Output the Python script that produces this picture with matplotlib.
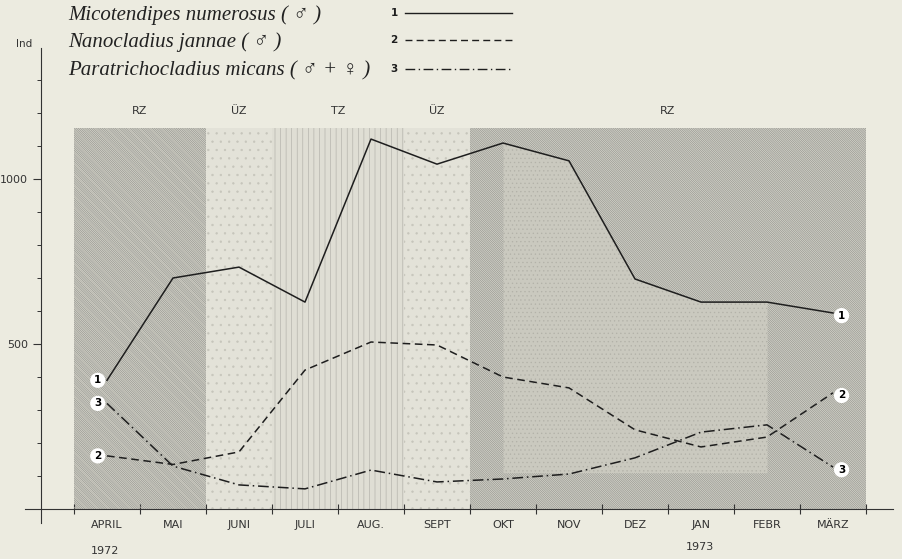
import numpy as np
import matplotlib
matplotlib.use("Agg")
import matplotlib.pyplot as plt
from matplotlib.patches import Rectangle

# months (x position = month centre, index 0..11)
months = ["APRIL", "MAI", "JUNI", "JULI", "AUG.", "SEPT",
          "OKT", "NOV", "DEZ", "JAN", "FEBR", "MÄRZ"]

# individuals per month
micotendipes = [390, 700, 733, 627, 1121, 1045, 1109, 1055, 697, 627, 627, 594]
nanocladius = [161, 135, 173, 421, 506, 497, 400, 367, 240, 188, 218, 352]
paratricho = [320, 130, 73, 61, 118, 82, 91, 106, 155, 233, 255, 127]

# zones: (start month, end month, label)
zone_names = ["RZ", "ÜZ", "TZ", "ÜZ", "RZ"]
zone_start = [0, 2, 3, 5, 6]
zone_end = [2, 3, 5, 6, 12]
zone_top = 1155

W, H = 903, 559
paper = "#ecebe0"
ink = "#1e1e1e"

plt.rcParams['hatch.linewidth'] = 0.45

fig = plt.figure(figsize=(W / 100, H / 100), dpi=100, facecolor=paper)


def fx(px):
    return px / W


def fy(py):
    return 1 - py / H


# axes laid out in pixels: month boundary 0 at x=74, 66 px per month,
# value 0 at y=509, 0.33 px per individual
x0_px, mpx = 74, 66.0
y0_px, vpx = 509, 0.33
xlo, xhi = (25 - x0_px) / mpx, (893 - x0_px) / mpx
ylo, yhi = -(523 - y0_px) / vpx, (y0_px - 48) / vpx
ax = fig.add_axes([fx(25), fy(523), fx(893 - 25), (523 - 48) / H])
ax.set_facecolor("none")
ax.set_xlim(xlo, xhi)
ax.set_ylim(ylo, yhi)

# background zones
zone_style = {
    "RZ": dict(facecolor="#e0dfd5", edgecolor="#8e8e88", hatch="\\" * 18),
    "ÜZ": dict(facecolor="#e3e2d8", edgecolor="#c6c5bb", hatch=".."),
    "TZ": dict(facecolor="#dfded4", edgecolor="#b2b1a9", hatch="|||"),
}
for name, s, e in zip(zone_names, zone_start, zone_end):
    ax.add_patch(Rectangle((s, 0), e - s, zone_top, lw=0, zorder=1,
                           **zone_style[name]))
    ax.text((s + e) / 2, zone_top + 35, name, ha="center", va="bottom",
            fontsize=8, color="#333333")

# mottled screen below curve 1 in winter RZ
xc = np.arange(len(months)) + 0.5
ax.fill_between(xc[6:11], 110, micotendipes[6:11], color="#cac9bf",
                lw=0, zorder=1.5)
ax.fill_between(xc[6:11], 110, micotendipes[6:11], facecolor="none",
                edgecolor="#b3b2a9", hatch="....", lw=0, zorder=1.55)
# broad stripes in the spring RZ
ax.add_patch(Rectangle((0, 0), 2, zone_top, facecolor="none",
                       edgecolor="#c2c1b7", hatch="\\\\\\", lw=0, zorder=1.6))

# series
ax.plot(xc, micotendipes, color=ink, lw=1.1, zorder=5)
ax.plot(xc, nanocladius, color=ink, lw=1.1, ls=(0, (5, 3)), zorder=5)
ax.plot(xc, paratricho, color=ink, lw=1.1, ls=(0, (7, 2.5, 1, 2.5)), zorder=5)

circ = dict(boxstyle="circle,pad=0.25", fc="white", ec="none")
for num, series in zip(["1", "2", "3"], [micotendipes, nanocladius, paratricho]):
    ax.text(xc[0] - 0.14, series[0], num, ha="center", va="center",
            fontsize=7.5, fontweight="bold", bbox=circ, zorder=6)
    ax.text(xc[-1] + 0.13, series[-1] - 8, num, ha="center", va="center",
            fontsize=7.5, fontweight="bold", bbox=circ, zorder=6)

# axes styling
for side in ["top", "right"]:
    ax.spines[side].set_visible(False)
ax.spines["bottom"].set_position(("data", 0))
ax.spines["left"].set_position(("data", (41 - x0_px) / mpx))
ax.spines["bottom"].set_color("#333333")
ax.spines["left"].set_color("#333333")
ax.spines["bottom"].set_zorder(7)

ax.set_xticks(np.arange(0, 13))
ax.set_xticklabels([])
ax.set_xticks(xc, minor=True)
ax.set_xticklabels(months, minor=True)
ax.tick_params(axis="x", which="major", direction="inout", length=7,
               width=0.8, color="#333333")
ax.tick_params(axis="x", which="minor", length=0, pad=8, labelsize=8,
               labelcolor="#333333")

ax.set_yticks([500, 1000])
ax.set_yticklabels(["500", "1000"])
ax.set_yticks(np.arange(100, 1400, 100), minor=True)
ax.tick_params(axis="y", which="major", length=6, width=0.8,
               labelsize=8, labelcolor="#333333", color="#333333")
ax.tick_params(axis="y", which="minor", length=3, width=0.7,
               color="#333333")

fig.text(fx(16), fy(44), "Ind", fontsize=7.5, color="#333333",
         ha="left", va="center")
fig.text(fx(105), fy(551), "1972", fontsize=8, color="#333333",
         ha="center", va="center")
fig.text(fx(700), fy(547), "1973", fontsize=8, color="#333333",
         ha="center", va="center")

# legend
leg_names = ["Micotendipes numerosus ( ♂ )",
             "Nanocladius jannae ( ♂ )",
             "Paratrichocladius micans ( ♂ + ♀ )"]
leg_y = [15, 42, 71]
leg_ls = ["-", (0, (5, 3)), (0, (7, 2.5, 1, 2.5))]
for i, (name, yy, ls) in enumerate(zip(leg_names, leg_y, leg_ls)):
    fig.text(fx(68), fy(yy), name, fontsize=15, style="italic",
             family=["Liberation Serif", "DejaVu Serif", "DejaVu Sans"],
             color="#222222", ha="left", va="center")
    fig.text(fx(394), fy(yy - 2), str(i + 1), fontsize=7.5,
             fontweight="bold", ha="center", va="center", color=ink)
    fig.add_artist(plt.Line2D([fx(405), fx(512)], [fy(yy - 2), fy(yy - 2)],
                              color=ink, lw=1.0, ls=ls))

fig.savefig("out.png", dpi=100, facecolor=paper)
